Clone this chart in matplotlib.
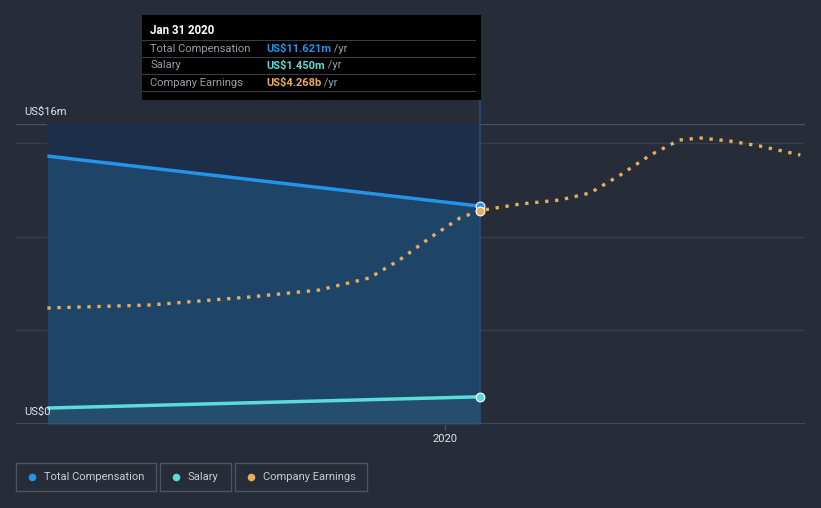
import matplotlib.pyplot as plt
import matplotlib.dates as mdates
import numpy as np
import pandas as pd

plt.rcParams['font.family'] = ['Roboto', 'DejaVu Sans']

# compensation data (US$ m)
comp_dates = pd.to_datetime(["2019-01-24", "2020-01-31"])
total_comp = [14.29, 11.621]
salary = [0.85, 1.450]

# company earnings (US$ b)
earn_dates = pd.to_datetime([
    "2019-01-24", "2019-04-22", "2019-07-17", "2019-09-15", "2019-10-28",
    "2019-11-23", "2019-12-19", "2020-01-14", "2020-01-31", "2020-03-06",
    "2020-04-09", "2020-05-05", "2020-05-31", "2020-06-26", "2020-07-21",
    "2020-08-08", "2020-09-02", "2020-09-28", "2020-11-02"])
earnings = [2.32, 2.38, 2.54, 2.68, 2.92, 3.28, 3.72, 4.12, 4.268, 4.40,
            4.48, 4.62, 4.98, 5.38, 5.68, 5.72, 5.66, 5.56, 5.38]

bg = '#262c38'
c_total = '#2394e8'
c_salary = '#5cdbd8'
c_earn = '#e8ae5a'

fig = plt.figure(figsize=(8.21, 5.08), dpi=100, facecolor=bg)
W, H = 821, 508
ax = fig.add_axes([16 / W, (H - 424) / H, (805 - 16) / W, 300 / H])
ax.set_facecolor(bg)
ax.set_xlim(pd.Timestamp("2018-12-28"), pd.Timestamp("2020-11-06"))
ax.set_ylim(0, 16)
for s in ax.spines.values():
    s.set_visible(False)
ax.set_yticks([])

# gridlines
for v in [5, 10, 15]:
    ax.axhline(v, color='#363e4b', lw=1, zorder=1)
ax.axhline(16, color='#4a515e', lw=1, zorder=1)
ax.axhline(0, color='#4a515e', lw=1.2, zorder=5)

# hover highlight column
ax.axvspan(comp_dates[0], comp_dates[1], ymin=0, ymax=1, color='#1d2e4a', zorder=1.5, lw=0)
ax.fill_between(comp_dates, 0, total_comp, color='#1e4468', zorder=2, lw=0)
ax.fill_between(comp_dates, 0, salary, color='#2a5570', alpha=0.6, zorder=2.5, lw=0)

ax.plot(comp_dates, total_comp, color=c_total, lw=2.5, zorder=4, solid_capstyle='butt')
ax.plot(comp_dates, salary, color=c_salary, lw=2.5, zorder=4, solid_capstyle='butt')
ax.scatter([comp_dates[1]], [total_comp[1]], s=40, color=c_total, edgecolor='white', lw=0.8, zorder=6)
ax.scatter([comp_dates[1]], [salary[1]], s=40, color=c_salary, edgecolor='white', lw=0.8, zorder=6)

# earnings on hidden secondary axis
ax2 = ax.twinx()
ax2.set_ylim(0, 6)
ax2.set_yticks([])
for s in ax2.spines.values():
    s.set_visible(False)
ax2.plot(earn_dates, earnings, color=c_earn, lw=2.4, ls=(0, (1, 2.0)), zorder=4)
ax2.scatter([earn_dates[8]], [earnings[8]], s=40, color=c_earn, edgecolor='white', lw=0.8, zorder=6)

# vertical hover line
ax.axvline(comp_dates[1], ymin=0, ymax=1.08, color='#2c4c7c', lw=1.2, zorder=3, clip_on=False)

# x axis
ax.set_xticks([pd.Timestamp("2020-01-01")])
ax.xaxis.set_major_formatter(mdates.DateFormatter('%Y'))
ax.tick_params(axis='x', colors='#4a515e', length=4, width=1, labelcolor='#e4e6ea', labelsize=8, pad=3)

# y labels
fig.text(24 / W, (H - 112) / H, 'US$16m', color='#e4e6ea', fontsize=8, va='center', ha='left')
fig.text(24 / W, (H - 412) / H, 'US$0', color='#e4e6ea', fontsize=8, va='center', ha='left', zorder=10)

# tooltip
tip = fig.add_axes([142 / W, (H - 100) / H, (481 - 142) / W, 85 / H])
tip.set_xlim(0, 339)
tip.set_ylim(85, 0)
tip.set_facecolor('black')
tip.set_xticks([])
tip.set_yticks([])
for s in tip.spines.values():
    s.set_visible(False)
tip.text(8, 16, 'Jan 31 2020', color='white', fontsize=8.3, fontweight='bold', va='center')
rows = [("Total Compensation", "US$11.621m", c_total),
        ("Salary", "US$1.450m", c_salary),
        ("Company Earnings", "US$4.268b", c_earn)]
for i, (lab, val, col) in enumerate(rows):
    y0 = 25 + i * 17
    tip.plot([0, 333], [y0, y0], color='#3a3d44', lw=0.8)
    tip.text(8, y0 + 8.5, lab, color='#9a9ea6', fontsize=8, va='center')
    t = tip.text(124, y0 + 8.5, val, color=col, fontsize=8, fontweight='bold', va='center')
    tip.annotate(' /yr', xycoords=t, xy=(1, 0.5), va='center', color='#9a9ea6', fontsize=8)
tip.plot([0, 333], [76, 76], color='#3a3d44', lw=0.8)

# legend boxes
leg = [("Total Compensation", c_total, 16, 156),
       ("Salary", c_salary, 160, 231),
       ("Company Earnings", c_earn, 235, 367)]
for lab, col, x0, x1 in leg:
    box = fig.add_axes([x0 / W, (H - 491) / H, (x1 - x0) / W, 28 / H])
    box.set_xlim(0, x1 - x0)
    box.set_ylim(28, 0)
    box.set_facecolor(bg)
    box.set_xticks([])
    box.set_yticks([])
    for s in box.spines.values():
        s.set_color('#4e5562')
        s.set_linewidth(1)
    box.scatter([16], [14], s=30, color=col, lw=0)
    box.text(28, 14.5, lab, color='#c8ccd2', fontsize=8, va='center')

fig.savefig('out.png', dpi=100, facecolor=bg)
